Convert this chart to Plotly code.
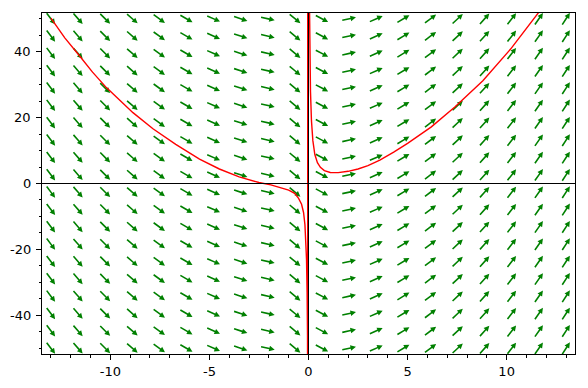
import math
import plotly.graph_objects as go

# ---- slope field grid (column x positions, row y positions) ----
x_cols = [-13.0, -11.63, -10.26, -8.89, -7.53, -6.16, -4.79, -3.42, -2.05, -0.68,
          0.68, 2.05, 3.42, 4.79, 6.16, 7.53, 8.89, 10.26, 11.63, 13.0]
y_rows = [-50.0, -44.74, -39.47, -34.21, -28.95, -23.68, -18.42, -13.16, -7.89, -2.63,
          2.63, 7.89, 13.16, 18.42, 23.68, 28.95, 34.21, 39.47, 44.74, 50.0]
# on-screen arrow direction for each column, degrees
arrow_angle_deg = [-53, -49, -45, -41, -36, -30, -24, -18, -13, -40,
                   -28, 12, 24, 31, 37, 43, 48, 52, 55, 57]

# ---- solution curve ----
curve_x = [-13.0, -12.3, -11.55, -10.9, -10.2, -9.5, -8.86, -7.85, -6.7, -5.5,
           -4.5, -3.5, -2.5, -1.9, -1.45, -1.0, -0.7, -0.5, -0.35, -0.25,
           -0.18, -0.13, -0.1, -0.07, -0.05, -0.04, -0.04, 0.05, 0.07, 0.1,
           0.15, 0.22, 0.32, 0.45, 0.6, 0.8, 1.1, 1.5, 2.0, 2.5,
           3.0, 3.6, 4.3, 5.0, 6.2, 7.4, 8.8, 10.2, 11.6, 12.2]
curve_y = [50.2, 44.2, 38.7, 33.8, 29.1, 25.1, 21.5, 16.6, 11.9, 7.4,
           4.4, 2.0, 0.3, -0.4, -1.1, -2.0, -3.0, -4.5, -6.3, -8.8,
           -12.5, -17.5, -23.0, -33.0, -46.0, -80.0, 80.0, 54.0, 39.0, 28.0,
           19.0, 13.0, 8.8, 6.3, 4.9, 3.9, 3.35, 3.3, 3.7, 4.4,
           5.4, 7.1, 9.5, 12.2, 17.2, 23.3, 31.2, 40.8, 51.8, 56.5]

# ---- axes ----
x_range = [-13.45, 13.45]
y_range = [-51.75, 51.75]
x_tick_vals = [-10, -5, 0, 5, 10]
x_tick_text = ["-10", "-5", "0", "5", "10"]
y_tick_vals = [-40, -20, 0, 20, 40]
y_tick_text = ["-40", "-20", "0", "20", "40"]
x_minor_vals = list(range(-13, 14))
y_minor_vals = list(range(-50, 51, 5))

W, H = 588, 388
ML, MR, MT, MB = 42, 13, 13, 34
plot_w = W - ML - MR
plot_h = H - MT - MB
ppx = plot_w / (x_range[1] - x_range[0])
ppy = plot_h / (y_range[1] - y_range[0])

# arrow geometry in screen pixels
L = 14.0
HL = 5.5
HW = 2.8
SW = 0.8

ax_list, ay_list = [], []
for cx, ang in zip(x_cols, arrow_angle_deg):
    a = math.radians(ang)
    ux, uy = math.cos(a), math.sin(a)
    nx, ny = -uy, ux
    tail = (-L / 2 * ux, -L / 2 * uy)
    tip = (L / 2 * ux, L / 2 * uy)
    base = (tip[0] - HL * ux, tip[1] - HL * uy)
    pts = [
        (tail[0] - SW * nx, tail[1] - SW * ny),
        (base[0] - SW * nx, base[1] - SW * ny),
        (base[0] - HW * nx, base[1] - HW * ny),
        tip,
        (base[0] + HW * nx, base[1] + HW * ny),
        (base[0] + SW * nx, base[1] + SW * ny),
        (tail[0] + SW * nx, tail[1] + SW * ny),
    ]
    for cy in y_rows:
        for px, py in pts:
            ax_list.append(cx + px / ppx)
            ay_list.append(cy + py / ppy)
        ax_list.append(None)
        ay_list.append(None)

fig = go.Figure()
fig.add_trace(go.Scatter(
    x=ax_list, y=ay_list, mode="lines", fill="toself",
    fillcolor="#008000", line=dict(width=0, color="#008000"),
    hoverinfo="skip", showlegend=False,
))
fig.add_trace(go.Scatter(
    x=curve_x, y=curve_y, mode="lines",
    line=dict(color="#ff0000", width=1.4),
    hoverinfo="skip", showlegend=False,
))

# axes through the origin
fig.add_shape(type="line", xref="paper", yref="y", x0=0, x1=1, y0=0, y1=0,
              line=dict(color="black", width=1), layer="above")
fig.add_shape(type="line", xref="x", yref="paper", x0=0, x1=0, y0=0, y1=1,
              line=dict(color="black", width=1), layer="above")

# y tick labels as text placed beside the frame
for v, t in zip(y_tick_vals, y_tick_text):
    fig.add_annotation(x=0, xref="paper", y=v, yref="y", text=t,
                       showarrow=False, xanchor="right", yanchor="middle",
                       xshift=-10, borderpad=0,
                       font=dict(family="DejaVu Sans", size=13, color="black"))

axis_common = dict(
    showgrid=False, zeroline=False, showline=True, linecolor="black",
    linewidth=1, mirror=True, ticks="outside", ticklen=5, tickwidth=1,
    tickcolor="black", automargin=False,
    tickfont=dict(family="DejaVu Sans", size=13, color="black"),
)
fig.update_xaxes(range=x_range, tickmode="array", tickvals=x_tick_vals,
                 ticktext=x_tick_text,
                 minor=dict(tickmode="array", tickvals=x_minor_vals, ticklen=2.5,
                            ticks="outside", tickcolor="black", tickwidth=1),
                 **axis_common)
fig.update_yaxes(range=y_range, tickmode="array", tickvals=y_tick_vals,
                 ticktext=y_tick_text, showticklabels=False,
                 minor=dict(tickmode="array", tickvals=y_minor_vals, ticklen=2.5,
                            ticks="outside", tickcolor="black", tickwidth=1),
                 **axis_common)
fig.update_layout(
    width=W, height=H, margin=dict(l=ML, r=MR, t=MT, b=MB, autoexpand=False),
    paper_bgcolor="white", plot_bgcolor="white",
    font=dict(family="DejaVu Sans", size=13, color="black"),
    showlegend=False,
)
fig.write_html(
    "out.html",
    config={"displayModeBar": False, "staticPlot": True},
    post_script="document.body.style.margin='0';document.body.style.padding='0';"
                "document.documentElement.style.overflow='hidden';",
)
